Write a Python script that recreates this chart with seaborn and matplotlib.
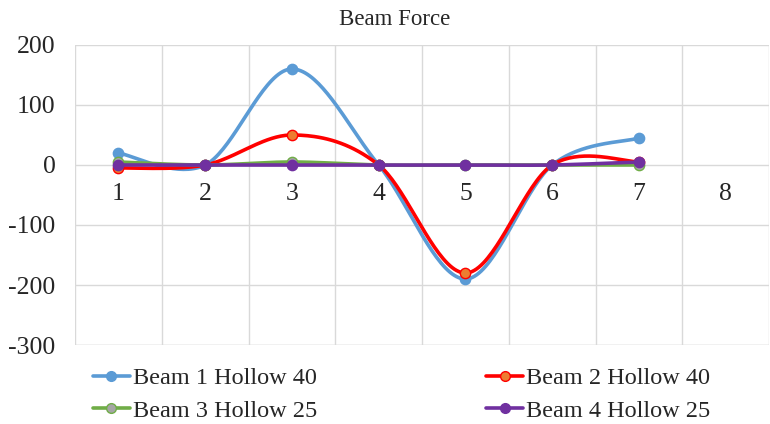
import numpy as np
import pandas as pd
import matplotlib
matplotlib.use("Agg")
import matplotlib.pyplot as plt
import seaborn as sns
from matplotlib.lines import Line2D

categories = [1, 2, 3, 4, 5, 6, 7]
tick_labels = ["1", "2", "3", "4", "5", "6", "7", "8"]
beam1 = [20, 0, 160, 0, -190, 0, 45]
beam2 = [-5, 0, 50, 0, -180, 0, 5]
beam3 = [5, 0, 5, 0, 0, 0, 0]
beam4 = [0, 0, 0, 0, 0, 0, 5]
names = ["Beam 1 Hollow 40", "Beam 2 Hollow 40", "Beam 3 Hollow 25", "Beam 4 Hollow 25"]
title = "Beam Force"

sns.set_theme(style="white")
plt.rcParams['font.family'] = ['Liberation Serif', 'DejaVu Serif']

line_colors = ["#5B9BD5", "#FF0000", "#70AD47", "#7030A0"]
face_colors = ["#5B9BD5", "#ED7D31", "#A5A5A5", "#7030A0"]
edge_colors = ["#5B9BD5", "#FF0000", "#70AD47", "#7030A0"]


def smooth(xs, ys, n=40):
    # Excel-style smoothing: cubic Bezier with Catmull-Rom control points
    P = np.column_stack([xs, ys]).astype(float)
    P = np.vstack([P[0], P, P[-1]])
    out = []
    for i in range(1, len(P) - 2):
        p0, p1, p2, p3 = P[i - 1], P[i], P[i + 1], P[i + 2]
        c1 = p1 + (p2 - p0) / 6
        c2 = p2 - (p3 - p1) / 6
        t = np.linspace(0, 1, n)[:, None]
        seg = ((1 - t) ** 3) * p1 + 3 * ((1 - t) ** 2) * t * c1 + 3 * (1 - t) * t ** 2 * c2 + t ** 3 * p2
        out.append(seg if i == 1 else seg[1:])
    s = np.vstack(out)
    return s[:, 0], s[:, 1]


fig = plt.figure(figsize=(7.7, 4.24), dpi=100)
ax = fig.add_axes([0.0974, 0.1863, 0.9015, 0.7076])

series = [beam1, beam2, beam3, beam4]
for k, ys in enumerate(series):
    sx, sy = smooth(categories, ys)
    df = pd.DataFrame({"x": sx, "y": sy})
    sns.lineplot(data=df, x="x", y="y", ax=ax, sort=False, color=line_colors[k],
                 linewidth=2.6, zorder=3 + k, estimator=None)
    dm = pd.DataFrame({"x": categories, "y": ys})
    sns.scatterplot(data=dm, x="x", y="y", ax=ax, s=55, color=face_colors[k],
                    edgecolor=edge_colors[k], linewidth=1.0, zorder=3.5 + k)

ax.set_xlim(0.5, 8.5)
ax.set_ylim(-300, 200)
ax.set_yticks([-300, -200, -100, 0, 100, 200])
ax.set_yticklabels(["-300", "-200", "-100", "0", "100", "200"])
ax.set_xticks(np.arange(1, 9))
ax.set_xticklabels(tick_labels)
ax.set_xticks(np.arange(0.5, 9, 1), minor=True)
ax.grid(False)
ax.grid(True, which="minor", axis="x", color="#D9D9D9", linewidth=1.0)
ax.grid(True, which="major", axis="y", color="#D9D9D9", linewidth=1.0)
ax.set_axisbelow(True)
for s in ["top", "right", "left"]:
    ax.spines[s].set_visible(False)
ax.spines["bottom"].set_position(("data", 0))
ax.spines["bottom"].set_visible(False)
ax.tick_params(axis="x", which="both", length=0, pad=13, labelsize=18.5)
ax.tick_params(axis="y", length=0, pad=14, labelsize=18.5)
ax.set_xlabel("")
ax.set_ylabel("")
fig.text(395 / 770, 1 - 25 / 424, title, fontsize=16.5, ha="center", va="baseline")
ax.axhline(-300, color="#D9D9D9", linewidth=1.0, zorder=1)

handles = [Line2D([0], [0], color=line_colors[k], linewidth=2.6, marker="o",
                  markersize=7, markerfacecolor=face_colors[k],
                  markeredgecolor=edge_colors[k]) for k in range(4)]
order = [0, 2, 1, 3]
fig.legend([handles[i] for i in order], [names[i] for i in order],
           loc="upper left", bbox_to_anchor=(93 / 770, 1 - 367 / 424),
           ncol=2, frameon=False, fontsize=17.5, handlelength=1.52, handletextpad=0.12,
           columnspacing=6.95, labelspacing=0.45, borderpad=0, borderaxespad=0)

fig.savefig("out.png", dpi=100)
